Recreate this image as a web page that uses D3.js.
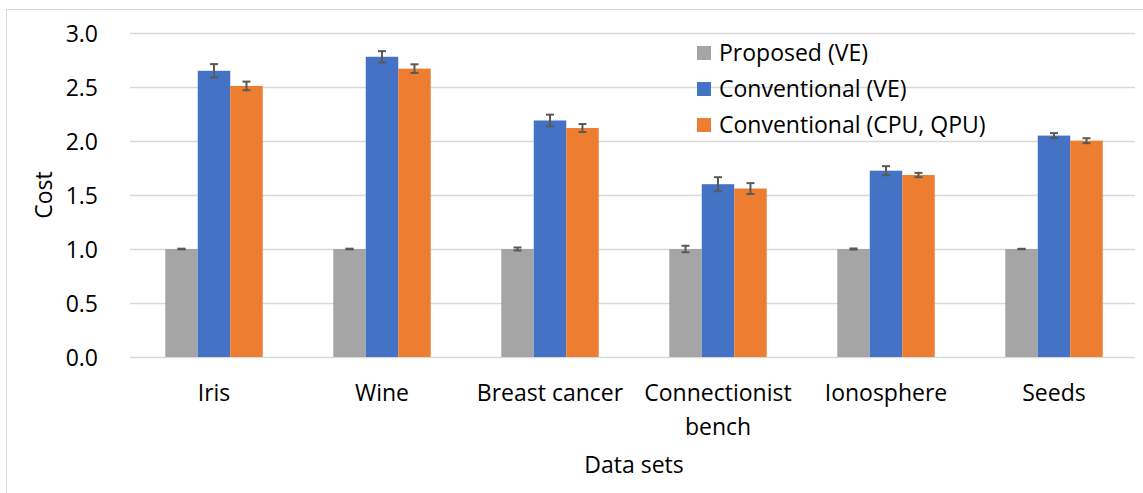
<!DOCTYPE html>
<html>
<head>
<meta charset="utf-8">
<script src="https://cdn.jsdelivr.net/npm/d3@7"></script>
<style>
  html, body { margin: 0; padding: 0; background: #fff; }
  svg { display: block; }
  text { font-family: "Open Sans", "Noto Sans", sans-serif; fill: #000; }
</style>
</head>
<body>
<svg id="chart" width="1143" height="493"></svg>
<script>
const categories = ["Iris", "Wine", "Breast cancer", "Connectionist\nbench", "Ionosphere", "Seeds"];
const seriesNames = ["Proposed (VE)", "Conventional (VE)", "Conventional (CPU, QPU)"];
const seriesColors = ["#a5a5a5", "#4472c4", "#ed7d31"];
const proposedVE = [1.0, 1.0, 1.0, 1.0, 1.0, 1.0];
const conventionalVE = [2.65, 2.78, 2.19, 1.60, 1.725, 2.05];
const conventionalCPU = [2.51, 2.67, 2.12, 1.56, 1.685, 2.003];
const errProposedVE = [0.003, 0.003, 0.014, 0.03, 0.005, 0.002];
const errConventionalVE = [0.062, 0.052, 0.054, 0.065, 0.042, 0.023];
const errConventionalCPU = [0.04, 0.04, 0.037, 0.05, 0.02, 0.023];
const yTicks = [0.0, 0.5, 1.0, 1.5, 2.0, 2.5, 3.0];
const yTitle = "Cost";
const xTitle = "Data sets";

const values = [proposedVE, conventionalVE, conventionalCPU];
const errors = [errProposedVE, errConventionalVE, errConventionalCPU];
const FS = 23;

const svg = d3.select("#chart");

// outer border
svg.append("path")
  .attr("d", "M6.5,1143 L6.5,9.5 L1143,9.5")
  .attr("fill", "none").attr("stroke", "#d9d9d9").attr("stroke-width", 1);

const x = d3.scaleBand().domain(categories).range([130, 1138]).paddingInner(0.42).paddingOuter(0.21);
const xs = d3.scaleBand().domain(seriesNames).range([0, x.bandwidth()]);
const y = d3.scaleLinear().domain([0, 3]).range([357, 33]);

// gridlines
svg.append("g").selectAll("line").data(yTicks).join("line")
  .attr("x1", 130).attr("x2", 1135)
  .attr("y1", d => Math.round(y(d)) + 0.5).attr("y2", d => Math.round(y(d)) + 0.5)
  .attr("stroke", "#d9d9d9").attr("stroke-width", 1.3);

// y axis labels
const yAxis = d3.axisLeft(y).tickValues(yTicks).tickFormat(d3.format(".1f")).tickSize(0).tickPadding(0);
const yg = svg.append("g").attr("transform", "translate(98,0)").call(yAxis);
yg.select(".domain").remove();
yg.selectAll("text").attr("font-size", FS).attr("font-family", "'Open Sans', sans-serif").attr("fill", "#000").attr("dy", "0.35em");

// bars
seriesNames.forEach((s, si) => {
  const g = svg.append("g");
  g.selectAll("rect").data(categories).join("rect")
    .attr("x", c => x(c) + xs(s))
    .attr("width", xs.bandwidth())
    .attr("y", (c, i) => y(values[si][i]))
    .attr("height", (c, i) => y(0) - y(values[si][i]))
    .attr("fill", seriesColors[si]);
});

// error bars
seriesNames.forEach((s, si) => {
  const g = svg.append("g").attr("stroke", "#595959").attr("stroke-width", 2).attr("fill", "none");
  categories.forEach((c, i) => {
    const cx = x(c) + xs(s) + xs.bandwidth() / 2;
    const v = values[si][i], e = errors[si][i];
    const y1 = y(v + e), y2 = y(v - e);
    g.append("line").attr("x1", cx).attr("x2", cx).attr("y1", y1).attr("y2", y2);
    g.append("line").attr("x1", cx - 4).attr("x2", cx + 4).attr("y1", y1).attr("y2", y1);
    g.append("line").attr("x1", cx - 4).attr("x2", cx + 4).attr("y1", y2).attr("y2", y2);
  });
});

// x axis labels
const xg = svg.append("g");
categories.forEach(c => {
  const lines = c.split("\n");
  const t = xg.append("text").attr("text-anchor", "middle").attr("font-size", FS)
    .attr("x", x(c) + x.bandwidth() / 2).attr("y", 401);
  lines.forEach((ln, li) => {
    t.append("tspan").attr("x", x(c) + x.bandwidth() / 2).attr("dy", li === 0 ? 0 : 34).text(ln);
  });
});

// axis titles
svg.append("text").attr("text-anchor", "middle").attr("font-size", FS)
  .attr("x", (130 + 1138) / 2).attr("y", 473).text(xTitle);
svg.append("text").attr("text-anchor", "middle").attr("font-size", FS)
  .attr("transform", "translate(52,195) rotate(-90)").text(yTitle);

// legend
const leg = svg.append("g");
seriesNames.forEach((s, i) => {
  const cy = 53 + i * 36;
  leg.append("rect").attr("x", 697).attr("y", cy - 7).attr("width", 14).attr("height", 14).attr("fill", seriesColors[i]);
  leg.append("text").attr("x", 719).attr("y", cy).attr("dy", "0.35em").attr("font-size", FS).text(s);
});
</script>
</body>
</html>
